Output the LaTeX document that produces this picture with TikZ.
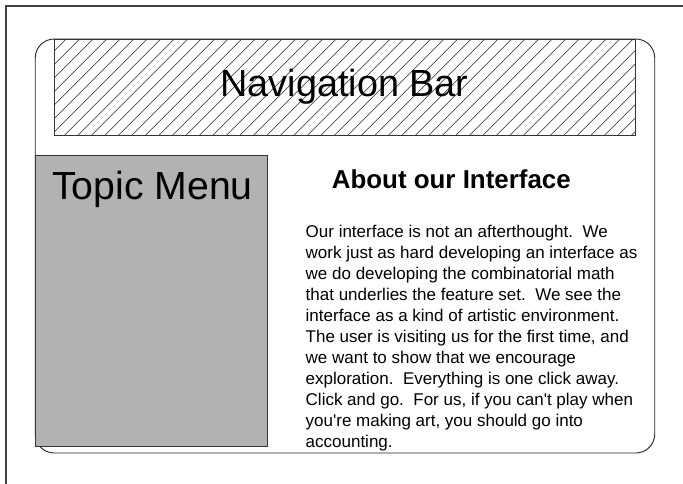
\documentclass[tikz,border=0pt]{standalone}
\usepackage{fontspec}
\newfontfamily\arial{Liberation Sans}
\frenchspacing
\begin{document}
\begin{tikzpicture}[x=1pt,y=-1pt,
  frame/.style={draw=black!75,line width=1.3pt},
  panel/.style={draw=black!85,line width=0.9pt,rounded corners=19pt,fill=white},
  navbox/.style={draw=black!80,line width=1pt},
  hatchline/.style={draw=black!85,line width=0.6pt},
  menubox/.style={draw=black!80,line width=0.9pt,fill=black!30},
  navtextstyle/.style={font=\arial\fontsize{37.8}{44}\selectfont,inner sep=0pt,anchor=base},
  menutextstyle/.style={font=\arial\fontsize{39.2}{44}\selectfont,inner sep=0pt,anchor=base},
  headtext/.style={font=\arial\bfseries\fontsize{25.9}{30}\selectfont,inner sep=0pt,anchor=base},
  bodytext/.style={font=\arial\fontsize{17}{21}\selectfont,inner sep=0pt,anchor=base west}]
\useasboundingbox (0,0) rectangle (683,483);
\fill[white] (0,0) rectangle (683,483);
% outer frame (extends beyond right and bottom)
\coordinate (fo) at (6,6);
\coordinate (fr) at (690,6);
\coordinate (fb) at (6,490);
\draw[frame] (fr) -- (fo) -- (fb);
% rounded panel
\node[panel,minimum width=619.5pt,minimum height=414pt,inner sep=0pt] (panel) at (345,246) {};
% navigation bar
\fill[white] (54.7,39) rectangle (635.7,135.7);
\begin{scope}
\clip (54.7,39) rectangle (635.7,135.7);
\foreach \k in {-8,...,43} {
  \pgfmathsetmacro{\c}{199.7+13.5*\k}
  \draw[hatchline] ({\c-137},137) -- ({\c-37},37);
}
\end{scope}
\node[navbox,minimum width=581pt,minimum height=96.7pt,inner sep=0pt] (nav) at (345.2,87.35) {};
\node[navtextstyle] (navtext) at (344.5,96.5) {Navigation Bar};
% topic menu
\node[menubox,minimum width=232pt,minimum height=291.7pt,inner sep=0pt] (menu) at (151.7,300.85) {};
\node[menutextstyle] (menutext) at (152.5,199) {Topic Menu};
% heading
\node[headtext] (head) at (451.3,188.5) {About our Interface};
% body text
\node[bodytext] (l1) at (305.5,237.5) {Our interface is not an afterthought.~ We};
\node[bodytext] (l2) at (305.5,258.5) {work just as hard developing an interface as};
\node[bodytext] (l3) at (305.5,279.5) {we do developing the combinatorial math};
\node[bodytext] (l4) at (305.5,300.5) {that underlies the feature set.~ We see the};
\node[bodytext] (l5) at (305.5,321.5) {interface as a kind of artistic environment.};
\node[bodytext] (l6) at (305.5,342.5) {The user is visiting us for the first time, and};
\node[bodytext] (l7) at (305.5,363.5) {we want to show that we encourage};
\node[bodytext] (l8) at (305.5,384.5) {exploration.~ Everything is one click away.};
\node[bodytext] (l9) at (305.5,405.5) {Click and go.~ For us, if you can't play when};
\node[bodytext] (l10) at (305.5,426.5) {you're making art, you should go into};
\node[bodytext] (l11) at (305.5,447.5) {accounting.};
\end{tikzpicture}
\end{document}
